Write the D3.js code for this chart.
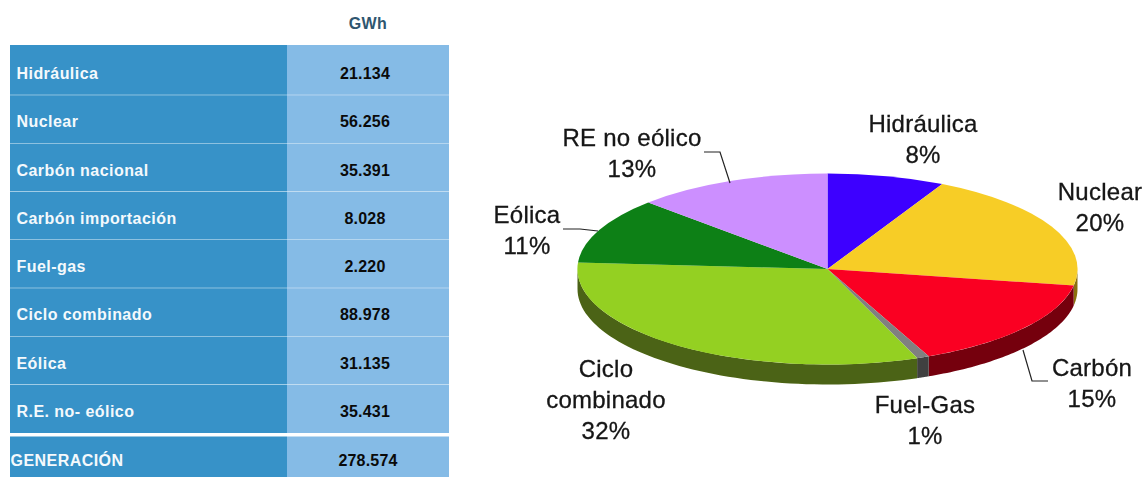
<!DOCTYPE html>
<html><head><meta charset="utf-8">
<script src="https://cdn.jsdelivr.net/npm/d3@7/dist/d3.min.js"></script>
<style>html,body{margin:0;padding:0;background:#fff;overflow:hidden}svg{display:block;font-family:"Liberation Sans",Arial,sans-serif}</style>
</head><body><svg id="c" width="1146" height="477"></svg>
<script>
const tableHeader = "GWh";
const tableRows = ["Hidráulica","Nuclear","Carbón nacional","Carbón importación","Fuel-gas","Ciclo combinado","Eólica","R.E. no- eólico"];
const tableValues = [21134,56256,35391,8028,2220,88978,31135,35431];
const totalLabel = "GENERACIÓN";
const totalValue = 278574;

const pieNames = ["Hidráulica","Nuclear","Carbón","Fuel-Gas","Ciclo combinado","Eólica","RE no eólico"];
const pieValues = [21134,56256,43419,2220,88978,31135,35431];
const piePercents = ["8%","20%","15%","1%","32%","11%","13%"];
const topColors = ["#3E00FF","#F7CD28","#FA0020","#808080","#94D022","#0A8013","#CC8FFF"];
const sideColors = ["#1f0080","#8a7010","#75000F","#404040","#4C6412","#05400a","#66487f"];

const labelLines = [["Hidráulica","8%"],["Nuclear","20%"],["Carbón","15%"],["Fuel-Gas","1%"],["Ciclo","combinado","32%"],["Eólica","11%"],["RE no eólico","13%"]];
const labelAnchors = [[923,132],[1100,200],[1092,376],[925,413],[606,377],[527,223],[632,146]];
const leaders = [[[704,152],[720,152],[730,183]],[[563,229],[580,229],[598,231]],[[1023,350],[1032,381],[1048,381]]];

const svg = d3.select("#c");
const fmt = v => d3.format(",")(v).replace(/,/g,".");

// table
const x0=10,x1=287,x2=449;
const y = d3.scaleBand().domain(tableRows).range([47,433]);
const table = svg.append("g");
table.append("rect").attr("x",x0).attr("y",45).attr("width",x1-x0).attr("height",2).attr("fill","#3792C8");
table.append("rect").attr("x",x1).attr("y",45).attr("width",x2-x1).attr("height",2).attr("fill","#85BBE6");
const rows = table.selectAll("g.r").data(tableRows.map((n,i)=>({n,v:tableValues[i]}))).join("g").attr("transform",d=>`translate(0,${y(d.n)})`);
rows.append("rect").attr("x",x0).attr("width",x1-x0).attr("height",y.step()).attr("fill","#3792C8");
rows.append("rect").attr("x",x1).attr("width",x2-x1).attr("height",y.step()).attr("fill","#85BBE6");
rows.filter((d,i)=>i<tableRows.length-1).append("line").attr("x1",x0).attr("x2",x2).attr("y1",y.step()).attr("y2",y.step()).attr("stroke","#e4f0f9").attr("stroke-width",1);
const labelFont = {size:"16px",ls:"0.45px"}, valueFont = {size:"16px",ls:"0.2px"};
rows.append("text").attr("x",16.5).attr("y",y.step()/2+8).text(d=>d.n).attr("fill","#f4f9fc").attr("font-weight","bold").attr("font-size",labelFont.size).attr("letter-spacing",labelFont.ls);
rows.append("text").attr("x",365).attr("y",y.step()/2+8).attr("text-anchor","middle").text(d=>fmt(d.v)).attr("fill","#0a0a0a").attr("font-weight","bold").attr("font-size",valueFont.size).attr("letter-spacing",valueFont.ls);
table.append("rect").attr("x",x0).attr("y",436.5).attr("width",x1-x0).attr("height",40.5).attr("fill","#3792C8");
table.append("rect").attr("x",x1).attr("y",436.5).attr("width",x2-x1).attr("height",40.5).attr("fill","#85BBE6");
table.append("text").attr("x",10.5).attr("y",466).text(totalLabel).attr("fill","#f4f9fc").attr("font-weight","bold").attr("font-size",labelFont.size).attr("letter-spacing",labelFont.ls);
table.append("text").attr("x",368).attr("y",466).attr("text-anchor","middle").text(fmt(totalValue)).attr("fill","#0a0a0a").attr("font-weight","bold").attr("font-size",valueFont.size).attr("letter-spacing",valueFont.ls);
table.append("text").attr("x",368).attr("y",29).attr("text-anchor","middle").text(tableHeader).attr("fill","#2f5670").attr("font-weight","bold").attr("font-size","16px").attr("letter-spacing","0.45px");

// pie
const cx=827.5, cy=269, rx=250, ry=95.5, depth=20;
const pie = d3.pie().sort(null).startAngle(0).endAngle(2*Math.PI)(pieValues);
const px = d3.scaleLinear().domain([-1,1]).range([cx-rx,cx+rx]);
const py = d3.scaleLinear().domain([-1,1]).range([cy-ry,cy+ry]);
const g = svg.append("g").attr("filter","url(#soft)");
const defs = svg.append("defs");
defs.append("filter").attr("id","soft").append("feGaussianBlur").attr("stdDeviation",0.35);

// side walls
const wall = d3.area().x(d=>px(Math.sin(d))).y0(d=>py(-Math.cos(d))).y1(d=>py(-Math.cos(d))+depth);
pie.forEach((s,i)=>{
  const a=Math.max(s.startAngle,Math.PI/2), b=Math.min(s.endAngle,1.5*Math.PI);
  if(b<=a) return;
  g.append("path").attr("d",wall(d3.range(0,61).map(k=>a+(b-a)*k/60))).attr("fill",sideColors[i]);
});
// top
const arc = d3.arc().innerRadius(0).outerRadius(1);
g.append("g").attr("transform",`translate(${cx},${cy}) scale(${rx},${ry})`)
 .selectAll("path").data(pie).join("path").attr("d",arc).attr("fill",(d,i)=>topColors[i]);

// labels
const lab = svg.append("g").attr("filter","url(#soft)");
const lh = 31;
labelLines.forEach((ls,i)=>{
  const t = lab.append("text").attr("text-anchor","middle").attr("font-size","24px").attr("letter-spacing","0.25px").attr("fill","#141414").attr("stroke","#141414").attr("stroke-width",0.3);
  ls.forEach((s,k)=>t.append("tspan").attr("x",labelAnchors[i][0]).attr("y",labelAnchors[i][1]+k*lh).text(s));
});
const leader = d3.line();
lab.selectAll("path.l").data(leaders).join("path").attr("d",leader).attr("fill","none").attr("stroke","#222").attr("stroke-width",1.2);
</script></body></html>
